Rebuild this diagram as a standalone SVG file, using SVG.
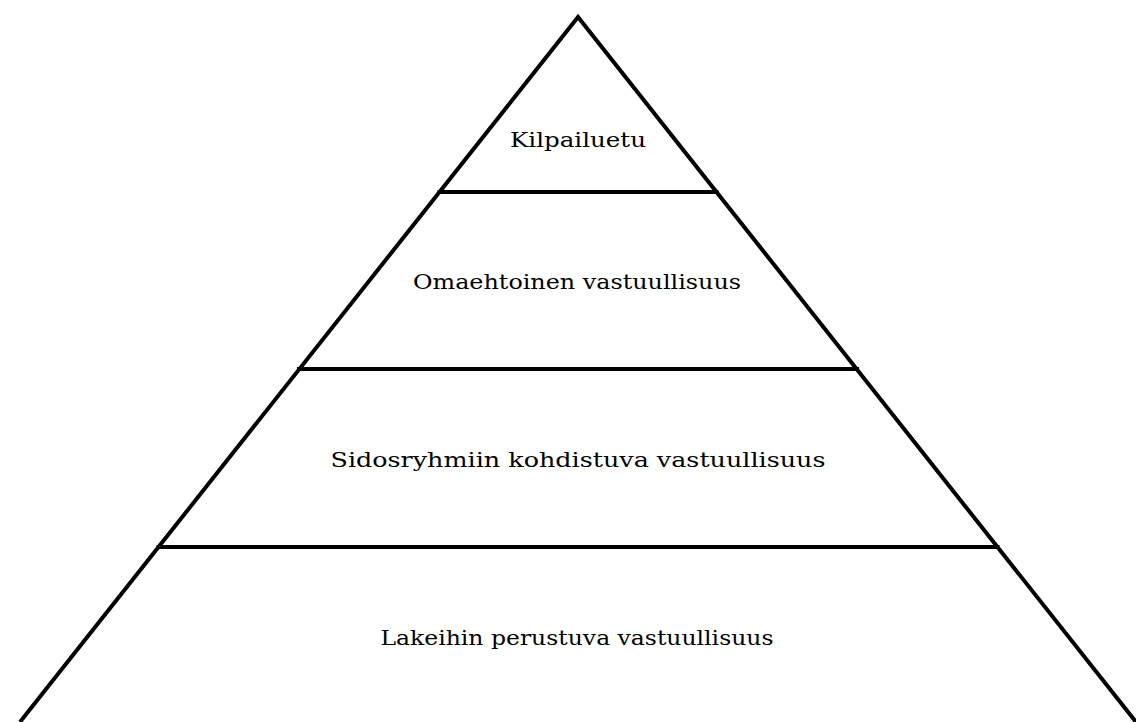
<svg xmlns="http://www.w3.org/2000/svg" width="1136" height="722" viewBox="0 0 1136 722">
<style>
.ln{fill:none;stroke:#000;stroke-width:4;stroke-linejoin:miter;stroke-miterlimit:10}
.t{font-family:"DejaVu Serif","Liberation Serif",serif;font-size:21px;fill:#000;text-anchor:middle}
</style>
<rect width="1136" height="722" fill="#fff"/>
<g id="outline">
<polyline class="ln" points="20,722 578,17 1136,722"/>
</g>
<g id="dividers">
<line class="ln" x1="437.5" y1="192" x2="718.5" y2="192"/>
<line class="ln" x1="297" y1="369" x2="859" y2="369"/>
<line class="ln" x1="156.5" y1="547" x2="999.5" y2="547"/>
</g>
<g id="level1"><text class="t" x="578" y="147" textLength="136" lengthAdjust="spacingAndGlyphs">Kilpailuetu</text></g>
<g id="level2"><text class="t" x="577" y="289" textLength="328" lengthAdjust="spacingAndGlyphs">Omaehtoinen vastuullisuus</text></g>
<g id="level3"><text class="t" x="578" y="467" textLength="495" lengthAdjust="spacingAndGlyphs">Sidosryhmiin kohdistuva vastuullisuus</text></g>
<g id="level4"><text class="t" x="577" y="645" textLength="393" lengthAdjust="spacingAndGlyphs">Lakeihin perustuva vastuullisuus</text></g>
</svg>
